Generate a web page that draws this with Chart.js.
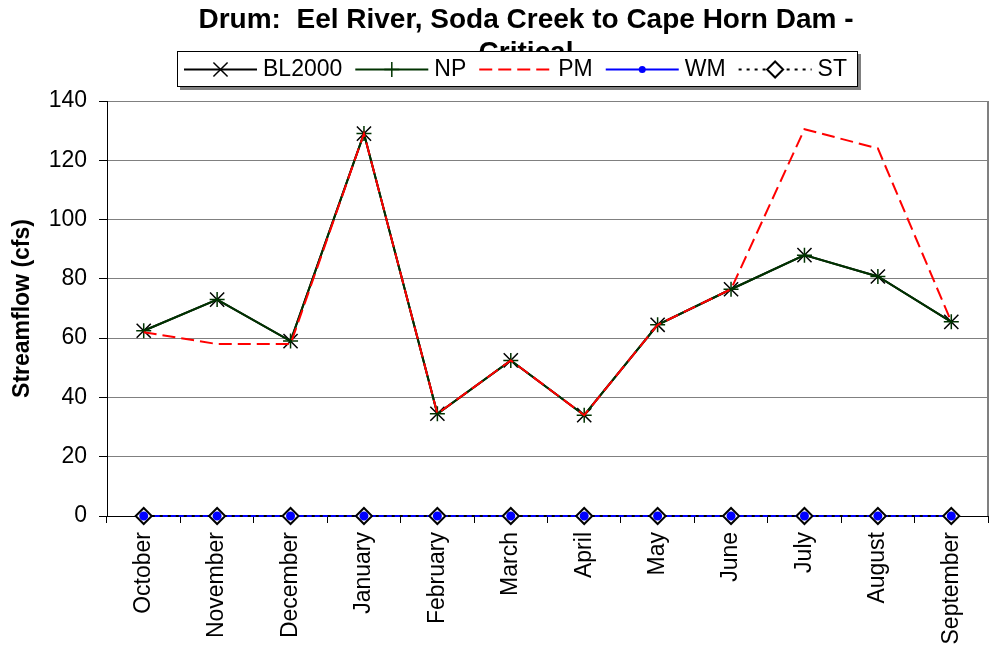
<!DOCTYPE html>
<html>
<head>
<meta charset="utf-8">
<script src="https://cdn.jsdelivr.net/npm/chart.js@4/dist/chart.umd.min.js"></script>
<style>
  html, body { margin: 0; padding: 0; background: #ffffff; }
  #wrap { width: 989px; height: 655px; position: relative; }
</style>
</head>
<body>
<div id="wrap"><canvas id="c" width="989" height="655"></canvas></div>
<script>
// ---- data ----
const titleLines = ['Drum:  Eel River, Soda Creek to Cape Horn Dam -', 'Critical'];
const yAxisTitle = 'Streamflow (cfs)';
const months = ['October','November','December','January','February','March','April','May','June','July','August','September'];
const seriesNames = ['BL2000','NP','PM','WM','ST'];
const bl2000 = [62.5, 73, 59, 129, 34.5, 52.5, 34, 64.5, 76.5, 88, 80.8, 65.5];
const np     = [62.5, 73, 59, 129, 34.5, 52.5, 34, 64.5, 76.5, 88, 80.8, 65.5];
const pm     = [62, 58, 58, 129, 34.5, 52.5, 34, 64.5, 76.5, 130.5, 124, 65.5];
const wm     = [0, 0, 0, 0, 0, 0, 0, 0, 0, 0, 0, 0];
const st     = [0, 0, 0, 0, 0, 0, 0, 0, 0, 0, 0, 0];
const yTicks = { min: 0, max: 140, step: 20 };

const FONT = '"Liberation Sans", Arial, Helvetica, sans-serif';
Chart.defaults.font.family = FONT;
Chart.defaults.color = '#000';

const datasets = [
  { label: seriesNames[0], data: bl2000, borderColor: '#000000', backgroundColor: '#000000',
    borderWidth: 2, pointStyle: 'crossRot', pointRadius: 10, pointBorderWidth: 1.5, pointBorderColor: '#000', order: 5, clip: false },
  { label: seriesNames[1], data: np, borderColor: '#003300', backgroundColor: '#003300',
    borderWidth: 2, pointStyle: 'cross', pointRadius: 7.5, pointBorderWidth: 1.5, pointBorderColor: '#003300', order: 4, clip: false },
  { label: seriesNames[2], data: pm, borderColor: '#ff0000', backgroundColor: '#ff0000',
    borderWidth: 2, borderDash: [13, 6], pointRadius: 0, order: 3, clip: false },
  { label: seriesNames[3], data: wm, borderColor: '#0000ff', backgroundColor: '#0000ff',
    borderWidth: 2, pointStyle: 'circle', pointRadius: 3.5, pointBorderColor: '#0000ff', pointBackgroundColor: '#0000ff', order: 2, clip: false },
  { label: seriesNames[4], data: st, borderColor: '#000000', backgroundColor: '#ffffff',
    borderWidth: 2, borderDash: [3, 5], pointStyle: 'rectRot', pointRadius: 8, pointBorderWidth: 2,
    pointBorderColor: '#000000', pointBackgroundColor: '#ffffff', order: 1, clip: false }
];

function drawMarker(ctx, style, x, y, r, stroke, fill, lw) {
  ctx.save();
  ctx.strokeStyle = stroke; ctx.fillStyle = fill; ctx.lineWidth = lw; ctx.setLineDash([]);
  ctx.beginPath();
  if (style === 'crossRot') {
    const d = r * Math.SQRT1_2;
    ctx.moveTo(x - d, y - d); ctx.lineTo(x + d, y + d);
    ctx.moveTo(x + d, y - d); ctx.lineTo(x - d, y + d);
    ctx.stroke();
  } else if (style === 'cross') {
    ctx.moveTo(x, y - r); ctx.lineTo(x, y + r);
    ctx.moveTo(x - r, y); ctx.lineTo(x + r, y);
    ctx.stroke();
  } else if (style === 'circle') {
    ctx.arc(x, y, r, 0, Math.PI * 2); ctx.fill();
  } else if (style === 'rectRot') {
    ctx.moveTo(x, y - r); ctx.lineTo(x + r, y); ctx.lineTo(x, y + r); ctx.lineTo(x - r, y); ctx.closePath();
    ctx.fill(); ctx.stroke();
  }
  ctx.restore();
}

const decorPlugin = {
  id: 'decor',
  afterDatasetsDraw(chart) {
    const ctx = chart.ctx;
    // WM dots sit over the ST diamonds in the reference
    chart.getDatasetMeta(3).data.forEach(p => p.draw(ctx));
    // right plot border
    const a = chart.chartArea;
    ctx.save();
    ctx.strokeStyle = '#808080'; ctx.lineWidth = 2;
    ctx.beginPath();
    ctx.moveTo(a.right, a.top); ctx.lineTo(a.right, a.bottom);
    ctx.stroke();
    ctx.restore();
  },
  afterDraw(chart) {
    const ctx = chart.ctx;
    ctx.save();
    // title
    ctx.fillStyle = '#000';
    ctx.font = 'bold 28px ' + FONT;
    ctx.textAlign = 'center';
    ctx.textBaseline = 'middle';
    titleLines.forEach((t, i) => ctx.fillText(t, 526, 20 + i * 33));
    // legend box
    const bx = 177, by = 51, bw = 681, bh = 36;
    ctx.fillStyle = '#808080';
    ctx.fillRect(bx + 3, by + 3, bw, bh);
    ctx.fillStyle = '#ffffff';
    ctx.fillRect(bx, by, bw, bh);
    ctx.strokeStyle = '#000'; ctx.lineWidth = 1;
    ctx.strokeRect(bx + 0.5, by + 0.5, bw - 1, bh - 1);
    // legend items
    ctx.font = '23px ' + FONT;
    ctx.textAlign = 'left';
    let x = 184; const cy = 69.5; const sample = 73;
    chart.data.datasets.forEach(ds => {
      ctx.save();
      ctx.strokeStyle = ds.borderColor; ctx.lineWidth = ds.borderWidth;
      ctx.setLineDash(ds.borderDash || []);
      ctx.beginPath(); ctx.moveTo(x, cy); ctx.lineTo(x + sample, cy); ctx.stroke();
      ctx.restore();
      if (ds.pointRadius > 0) {
        drawMarker(ctx, ds.pointStyle, x + sample / 2, cy, ds.pointRadius,
          ds.pointBorderColor || ds.borderColor, ds.pointBackgroundColor || ds.borderColor, ds.pointBorderWidth || 1);
      }
      ctx.fillStyle = '#000';
      ctx.fillText(ds.label, x + sample + 6, cy);
      x = x + sample + 6 + ctx.measureText(ds.label).width + 13;
    });
    ctx.restore();
  }
};

new Chart(document.getElementById('c'), {
  type: 'line',
  data: { labels: months, datasets: datasets },
  options: {
    responsive: false,
    animation: false,
    events: [],
    layout: { autoPadding: false, padding: { top: 101, right: 1, left: 0, bottom: 0 } },
    plugins: { legend: { display: false }, title: { display: false }, tooltip: { enabled: false } },
    elements: { line: { tension: 0 } },
    scales: {
      x: {
        type: 'category',
        offset: true,
        grid: { offset: true, drawOnChartArea: false, tickLength: 7, color: '#000', tickColor: '#000' },
        border: { color: '#000', width: 1 },
        ticks: { autoSkip: false, minRotation: 90, maxRotation: 90, padding: 9, font: { size: 23 }, color: '#000' },
        afterFit(s) { s.height = 139; s.paddingLeft = 0; s.paddingRight = 0; }
      },
      y: {
        min: yTicks.min, max: yTicks.max,
        grid: { color: '#808080', tickColor: '#000', tickLength: 8, lineWidth: 1 },
        border: { color: '#000', width: 1 },
        ticks: { stepSize: yTicks.step, padding: 12, font: { size: 23 }, color: '#000' },
        title: { display: true, text: yAxisTitle, font: { size: 23, weight: 'bold' }, color: '#000', padding: { top: 9, bottom: 0 } },
        afterFit(s) { s.width = 107; s.paddingTop = 0; s.paddingBottom = 0; }
      }
    }
  },
  plugins: [decorPlugin]
});
</script>
</body>
</html>
